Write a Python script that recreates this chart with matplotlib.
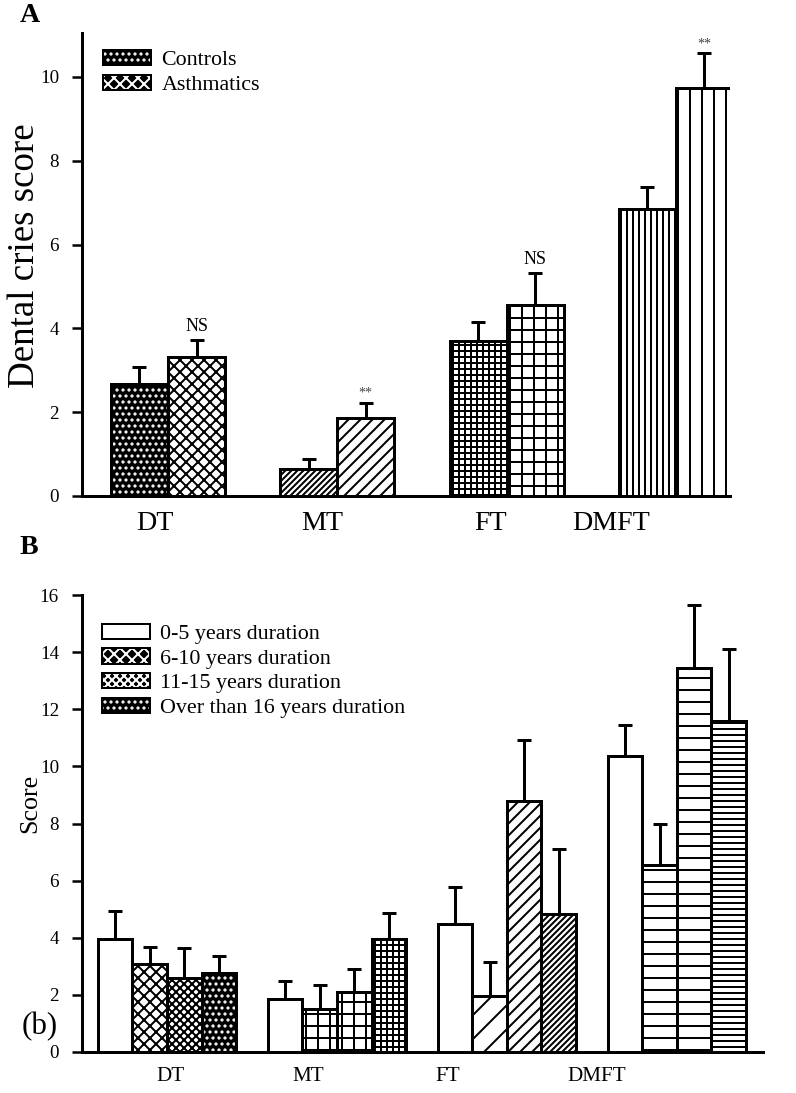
import numpy as np
import matplotlib
matplotlib.use("Agg")
import matplotlib.pyplot as plt
from matplotlib.patches import Patch

plt.rcParams.update({
    "font.family": ["Liberation Serif", "DejaVu Serif"],
    "hatch.linewidth": 2.0,
    "axes.linewidth": 3,
    "ytick.major.width": 2.5,
    "ytick.major.size": 10,
})

# ---- panel A data ----
groups = ["DT", "MT", "FT", "DMFT"]
controls_mean = [2.67, 0.64, 3.70, 6.85]
controls_err = [0.41, 0.24, 0.45, 0.52]
asth_mean = [3.32, 1.86, 4.56, 9.74]
asth_err = [0.40, 0.36, 0.76, 0.83]
asth_marks = ["NS", "**", "NS", "**"]
a_hatch_controls = ["dots", "////", "++", "||"]
a_hatch_asth = ["xx", "//", "+", "|"]
a_label_pos = [-0.08, 0.91, 1.905, 2.62]

# ---- panel B data ----
dur_labels = ["0-5 years duration", "6-10 years duration",
              "11-15 years duration", "Over than 16 years duration"]
d05_mean = [3.97, 1.87, 4.49, 10.35]
d05_err = [0.98, 0.60, 1.29, 1.11]
d610_mean = [3.07, 1.52, 1.95, 6.55]
d610_err = [0.60, 0.83, 1.19, 1.43]
d1115_mean = [2.60, 2.10, 8.78, 13.45]
d1115_err = [1.04, 0.80, 2.16, 2.19]
d16_mean = [2.77, 3.97, 4.84, 11.60]
d16_err = [0.60, 0.90, 2.26, 2.51]
b_hatch = [["", "xx", "xxx", "dots"],
           ["", "+", "+", "++"],
           ["", "/", "//", "////"],
           ["", "-", "-", "--"]]
b_label_pos = [0.02, 0.83, 1.65, 2.53]

EDGE_LW = 3


def hatched_bar(ax, x, h, w, hatch):
    if hatch == "dots":
        # dark bar with small white dots
        ax.bar(x, h, w, facecolor="black", edgecolor="white", hatch="..", linewidth=0, zorder=2)
        ax.bar(x, h, w, fill=False, edgecolor="black", linewidth=EDGE_LW, zorder=3)
    else:
        ax.bar(x, h, w, facecolor="white", edgecolor="black", hatch=hatch, linewidth=EDGE_LW, zorder=2)


def legend_handle(kind):
    outline = Patch(facecolor="none", edgecolor="black", linewidth=2)
    if kind == "":
        return Patch(facecolor="white", edgecolor="black", linewidth=2)
    fill = Patch(facecolor="black", edgecolor="white", hatch=kind, linewidth=0)
    return (fill, outline)


def style_axes(ax):
    for s in ["top", "right"]:
        ax.spines[s].set_visible(False)
    ax.tick_params(axis="x", length=0)
    ax.tick_params(axis="y", direction="out", labelsize=19, pad=13)


fig = plt.figure(figsize=(796 / 72, 1093 / 72), dpi=72)

# ---------------- panel A ----------------
axA = fig.add_axes([82 / 796, 1 - 496 / 1093, 648 / 796, 463 / 1093])
x = np.arange(len(groups))
wA = 0.337
for i in range(len(groups)):
    hatched_bar(axA, x[i] - wA / 2, controls_mean[i], wA, a_hatch_controls[i])
    hatched_bar(axA, x[i] + wA / 2, asth_mean[i], wA, a_hatch_asth[i])
axA.errorbar(x - wA / 2, controls_mean, yerr=[np.zeros(4), controls_err], fmt="none",
             ecolor="black", elinewidth=3, capsize=7, capthick=3, zorder=4)
axA.errorbar(x + wA / 2, asth_mean, yerr=[np.zeros(4), asth_err], fmt="none",
             ecolor="black", elinewidth=3, capsize=7, capthick=3, zorder=4)
for i, m in enumerate(asth_marks):
    top = asth_mean[i] + asth_err[i]
    if m == "NS":
        axA.annotate(m, (x[i] + wA / 2, top), xytext=(0, 5), textcoords="offset points",
                     ha="center", va="bottom", fontsize=18)
    else:
        axA.annotate(m, (x[i] + wA / 2, top), xytext=(0, 3), textcoords="offset points",
                     ha="center", va="bottom", fontsize=14, color="#444444")
axA.set_xlim(-0.508, 3.32)
axA.set_ylim(0, 11.05)
axA.set_yticks(range(0, 11, 2))
axA.set_xticks(a_label_pos, groups, fontsize=28)
axA.tick_params(axis="x", pad=15)
style_axes(axA)
axA.set_ylabel("Dental cries score", fontsize=37)
axA.yaxis.set_label_coords(-0.062, 0.518)
axA.legend([legend_handle(".."), legend_handle("xx")], ["Controls", "Asthmatics"],
           loc="upper left", bbox_to_anchor=(21 / 648, 0.963), frameon=False,
           fontsize=22, handlelength=2.2, handleheight=0.68, handletextpad=0.45,
           labelspacing=0.2, borderpad=0, borderaxespad=0)

# ---------------- panel B ----------------
axB = fig.add_axes([82 / 796, 1 - 1052 / 1093, 681 / 796, 457 / 1093])
wB = 0.203
series = [(d05_mean, d05_err), (d610_mean, d610_err), (d1115_mean, d1115_err), (d16_mean, d16_err)]
offsets = (np.arange(4) - 1.5) * wB
for j, (mean, err) in enumerate(series):
    for i in range(len(groups)):
        hatched_bar(axB, x[i] + offsets[j], mean[i], wB, b_hatch[i][j])
    axB.errorbar(x + offsets[j], mean, yerr=[np.zeros(4), err], fmt="none",
                 ecolor="black", elinewidth=3, capsize=7, capthick=3, zorder=4)
axB.set_xlim(-0.5, 3.506)
axB.set_ylim(0, 16)
axB.set_yticks(range(0, 17, 2))
axB.set_xticks(b_label_pos, groups, fontsize=21)
axB.tick_params(axis="x", pad=15)
style_axes(axB)
axB.set_ylabel("Score", fontsize=26)
axB.yaxis.set_label_coords(-0.06, 0.545)
axB.legend([legend_handle(""), legend_handle("xx"), legend_handle("xxx"), legend_handle("..")],
           dur_labels, loc="upper left", bbox_to_anchor=(20 / 681, 0.937), frameon=False,
           fontsize=22, handlelength=2.2, handleheight=0.68, handletextpad=0.45,
           labelspacing=0.2, borderpad=0, borderaxespad=0)

fig.text(20 / 796, 1 - 15 / 1093, "A", fontsize=28, fontweight="bold", va="center")
fig.text(20 / 796, 1 - 548 / 1093, "B", fontsize=28, fontweight="bold", va="center")
fig.text(40 / 796, 1 - 1027 / 1093, "(b)", fontsize=31, ha="center", va="center")

fig.savefig("out.png", dpi=72)
